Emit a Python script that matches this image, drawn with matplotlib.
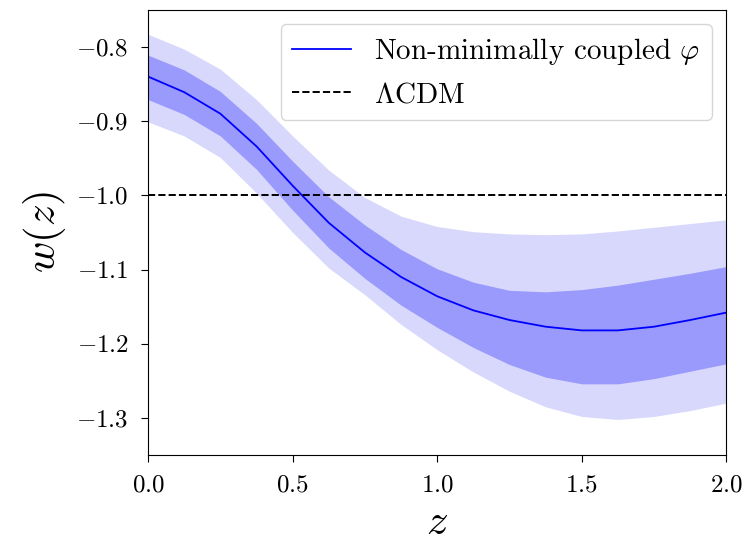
import numpy as np
import matplotlib
matplotlib.use('Agg')
from matplotlib import pyplot as plt

plt.rcParams['font.family'] = 'cmr10'
plt.rcParams['mathtext.fontset'] = 'cm'
plt.rcParams['axes.formatter.use_mathtext'] = True

# values
z = [0.0, 0.125, 0.25, 0.375, 0.5, 0.625, 0.75, 0.875, 1.0,
     1.125, 1.25, 1.375, 1.5, 1.625, 1.75, 1.875, 2.0]
w_mean = [-0.840, -0.861, -0.890, -0.934, -0.987, -1.037, -1.077, -1.110, -1.136,
          -1.155, -1.168, -1.177, -1.182, -1.182, -1.177, -1.168, -1.158]
w_1s_hi = [-0.811, -0.831, -0.860, -0.903, -0.954, -1.002, -1.040, -1.073, -1.099,
           -1.117, -1.128, -1.130, -1.127, -1.121, -1.113, -1.105, -1.096]
w_1s_lo = [-0.871, -0.891, -0.920, -0.965, -1.020, -1.071, -1.112, -1.148, -1.178,
           -1.205, -1.228, -1.245, -1.254, -1.254, -1.247, -1.237, -1.227]
w_2s_hi = [-0.783, -0.803, -0.830, -0.871, -0.920, -0.966, -1.003, -1.028, -1.042,
           -1.049, -1.052, -1.053, -1.052, -1.048, -1.043, -1.038, -1.033]
w_2s_lo = [-0.901, -0.920, -0.949, -0.997, -1.050, -1.098, -1.134, -1.174, -1.208,
           -1.238, -1.264, -1.285, -1.298, -1.302, -1.298, -1.290, -1.280]
w_lcdm = -1.0

fig = plt.figure(figsize=(7.48, 5.45), dpi=100)
ax = fig.add_axes([0.198, 0.165, 0.773, 0.817])

ax.fill_between(z, w_2s_lo, w_2s_hi, color='#d8d8fd', lw=0)
ax.fill_between(z, w_1s_lo, w_1s_hi, color='#9a9afc', lw=0)
ax.plot(z, w_mean, color='blue', lw=1.3, label=r'Non-minimally coupled $\varphi$')
ax.axhline(w_lcdm, color='black', ls='--', lw=1.4, label=r'$\Lambda$CDM')

ax.set_xlim(0, 2)
ax.set_ylim(-1.35, -0.75)
ax.set_xticks([0.0, 0.5, 1.0, 1.5, 2.0])
ax.set_yticks([-0.8, -0.9, -1.0, -1.1, -1.2, -1.3])
ax.tick_params(labelsize=18, pad=9, length=5)
ax.set_xlabel(r'$z$', fontsize=31, labelpad=6)
ax.set_ylabel(r'$w(z)$', fontsize=31, labelpad=6)

ax.legend(loc='upper right', fontsize=21, framealpha=0.8)

fig.savefig('out.png', dpi=100)
